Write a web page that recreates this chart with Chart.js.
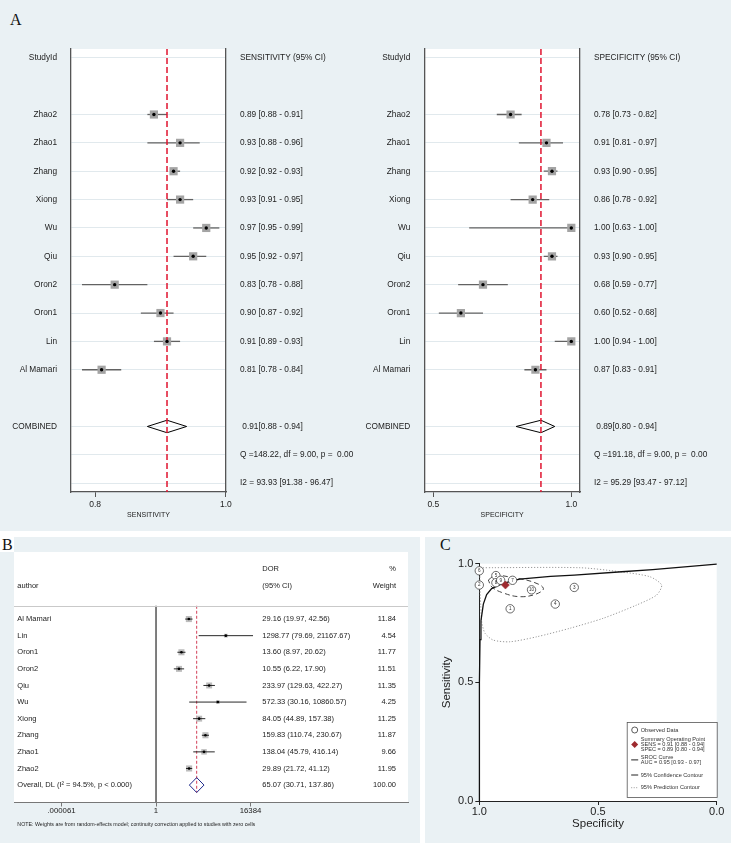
<!DOCTYPE html>
<html>
<head>
<meta charset="utf-8">
<script src="https://cdn.jsdelivr.net/npm/chart.js@4.4.1/dist/chart.umd.min.js"></script>
<style>
  html, body { margin: 0; padding: 0; background: #fff; }
  body { width: 731px; height: 843px; position: relative; overflow: hidden; }
  .panel { position: absolute; background: #eaf1f4; }
  canvas { position: absolute; }
  .lab { position: absolute; font-family: "Liberation Serif", "Times New Roman", serif; font-size: 16px; line-height: 1; color: #111; }
</style>
</head>
<body>
<div class="panel" style="left:0;top:0;width:731px;height:531px"></div>
<div class="panel" style="left:0;top:537px;width:420px;height:306px"></div>
<div class="panel" style="left:425px;top:537px;width:306px;height:306px"></div>
<div class="lab" style="left:10px;top:12px">A</div>
<div class="lab" style="left:0;top:537px;width:12px;height:15px;background:#fff;padding-left:2px">B</div>
<div class="lab" style="left:440px;top:537px">C</div>
<canvas id="sens" width="365" height="500" style="left:0;top:30px"></canvas>
<canvas id="spec" width="366" height="500" style="left:365px;top:30px"></canvas>
<canvas id="dor" width="420" height="306" style="left:0;top:537px"></canvas>
<canvas id="sroc" width="306" height="306" style="left:425px;top:537px"></canvas>
<script>
// studies, same order as panel B (panel A lists them reversed)
var studies = ['Al Mamari', 'Lin', 'Oron1', 'Oron2', 'Qiu', 'Wu', 'Xiong', 'Zhang', 'Zhao1', 'Zhao2'];

var sens   = [0.81, 0.91, 0.90, 0.83, 0.95, 0.97, 0.93, 0.92, 0.93, 0.89];
var sensLo = [0.78, 0.89, 0.87, 0.78, 0.92, 0.95, 0.91, 0.92, 0.88, 0.88];
var sensHi = [0.84, 0.93, 0.92, 0.88, 0.97, 0.99, 0.95, 0.93, 0.96, 0.91];
var sensPooled = [0.91, 0.88, 0.94];
var sensQ  = [148.22, 9.00, 0.00];
var sensI2 = [93.93, 91.38, 96.47];

var spec   = [0.87, 1.00, 0.60, 0.68, 0.93, 1.00, 0.86, 0.93, 0.91, 0.78];
var specLo = [0.83, 0.94, 0.52, 0.59, 0.90, 0.63, 0.78, 0.90, 0.81, 0.73];
var specHi = [0.91, 1.00, 0.68, 0.77, 0.95, 1.00, 0.92, 0.95, 0.97, 0.82];
var specPooled = [0.89, 0.80, 0.94];
var specQ  = [191.18, 9.00, 0.00];
var specI2 = [95.29, 93.47, 97.12];

var dor    = [29.16, 1298.77, 13.60, 10.55, 233.97, 572.33, 84.05, 159.83, 138.04, 29.89];
var dorLo  = [19.97, 79.69, 8.97, 6.22, 129.63, 30.16, 44.89, 110.74, 45.79, 21.72];
var dorHi  = [42.56, 21167.67, 20.62, 17.90, 422.27, 10860.57, 157.38, 230.67, 416.14, 41.12];
var weight = [11.84, 4.54, 11.77, 11.51, 11.35, 4.25, 11.25, 11.87, 9.66, 11.95];
var dorPooled = [65.07, 30.71, 137.86];
var dorI2 = 94.5;
var dorWeightTotal = 100;
var dorTicks = [Math.pow(2, -14), 1, 16384];

var auc = [0.95, 0.93, 0.97];
// SROC curve and contours (specificity, sensitivity)
var srocSpec = [1.000, 1.000, 0.999, 0.997, 0.993, 0.983, 0.969, 0.948, 0.910, 0.870, 0.830, 0.700, 0.600, 0.400, 0.270, 0.000];
var srocSens = [0.000, 0.300, 0.500, 0.680, 0.760, 0.830, 0.870, 0.895, 0.913, 0.925, 0.935, 0.947, 0.952, 0.966, 0.975, 0.998];
var confSpec = [0.962, 0.934, 0.857, 0.774, 0.730, 0.761, 0.829, 0.900, 0.947, 0.962];
var confSens = [0.931, 0.950, 0.941, 0.923, 0.896, 0.872, 0.861, 0.877, 0.902, 0.931];
var predSpec = [0.997, 0.576, 0.407, 0.281, 0.232, 0.253, 0.337, 0.478, 0.618, 0.758, 0.871, 0.941, 0.976, 0.990, 0.994, 0.997, 0.997];
var predSens = [0.983, 0.983, 0.966, 0.945, 0.910, 0.868, 0.826, 0.770, 0.728, 0.692, 0.671, 0.678, 0.707, 0.756, 0.826, 0.896, 0.983];

var FONT = '"Liberation Sans", Arial, Helvetica, sans-serif';
Chart.defaults.font.family = FONT;
Chart.defaults.color = '#222';
Chart.defaults.animation = false;
Chart.defaults.plugins.legend.display = false;
Chart.defaults.plugins.tooltip.enabled = false;

function f2(v) { return v.toFixed(2); }
function xy(xs, ys) { return xs.map(function(x, i) { return {x: x, y: ys[i]}; }); }

var whiteArea = {
  id: 'whiteArea',
  beforeDraw: function(c) {
    var a = c.chartArea, ctx = c.ctx;
    ctx.save();
    ctx.fillStyle = '#fff';
    ctx.fillRect(a.left, a.top, a.right - a.left, a.bottom - a.top);
    ctx.restore();
  }
};

// ---------- panel A ----------
function forestA(id, title, est, lo, hi, pooled, Q, I2, xmin, xmax, xTicks, leftW, rightW) {
  var order = studies.map(function(s, i) { return i; }).reverse();
  var row0 = 2, poolRow = 13, ymin = -0.31, ymax = 15.31;
  var leftLab = {0: 'StudyId', 13: 'COMBINED'};
  var rightLab = {
    0: title + ' (95% CI)',
    13: ' ' + f2(pooled[0]) + '[' + f2(pooled[1]) + ' - ' + f2(pooled[2]) + ']',
    14: 'Q =' + f2(Q[0]) + ', df = ' + f2(Q[1]) + ', p =  ' + f2(Q[2]),
    15: 'I2 = ' + f2(I2[0]) + ' [' + f2(I2[1]) + ' - ' + f2(I2[2]) + ']'
  };
  order.forEach(function(i, k) {
    leftLab[row0 + k] = studies[i];
    rightLab[row0 + k] = f2(est[i]) + ' [' + f2(lo[i]) + ' - ' + f2(hi[i]) + ']';
  });
  var rows = Object.keys(rightLab).map(Number);
  var pts = order.map(function(i, k) { return {x: est[i], y: row0 + k}; });
  var h = 0.22;
  var diamond = [
    {x: pooled[1], y: poolRow}, {x: pooled[0], y: poolRow - h},
    {x: pooled[2], y: poolRow}, {x: pooled[0], y: poolRow + h}, {x: pooled[1], y: poolRow}
  ];

  var datasets = [
    {data: pts, pointStyle: 'circle', pointRadius: 1.7, backgroundColor: '#000', borderWidth: 0},
    {data: [{x: pooled[0], y: ymin}, {x: pooled[0], y: ymax}], showLine: true, borderColor: '#e0142f',
     borderWidth: 1.5, borderDash: [6, 3], pointRadius: 0},
    {data: pts, pointStyle: 'rect', pointRadius: 5.8, backgroundColor: '#a4a4a4', borderWidth: 0}
  ];
  order.forEach(function(i, k) {
    datasets.push({data: [{x: lo[i], y: row0 + k}, {x: hi[i], y: row0 + k}], showLine: true,
      borderColor: '#626262', borderWidth: 1.3, pointRadius: 0});
  });
  datasets.push({data: diamond, showLine: true, borderColor: '#000', borderWidth: 1, pointRadius: 0});

  var yCommon = {
    type: 'linear', reverse: true, min: ymin, max: ymax,
    afterBuildTicks: function(s) { s.ticks = rows.map(function(v) { return {value: v}; }); }
  };
  new Chart(document.getElementById(id), {
    type: 'scatter',
    data: {datasets: datasets},
    options: {
      responsive: false,
      layout: {padding: {top: 8, left: 0, right: 0, bottom: 0}},
      scales: {
        x: {
          type: 'linear', min: xmin, max: xmax,
          afterBuildTicks: function(s) { s.ticks = xTicks.map(function(v) { return {value: v}; }); },
          ticks: {callback: function(v) { return v.toFixed(1); }, font: {size: 8.5}, color: '#222',
                  padding: 3, maxRotation: 0, autoSkip: false},
          grid: {drawOnChartArea: false, drawTicks: true, tickLength: 5, color: '#555'},
          border: {color: '#555', width: 1.3},
          title: {display: true, text: title, font: {size: 7}, color: '#222', padding: {top: 0, bottom: 10.8}},
          afterFit: function(s) { s.height = 38; }
        },
        y: Object.assign({}, yCommon, {
          position: 'left',
          ticks: {callback: function(v) { return leftLab[v] || ''; }, font: {size: 8.3}, color: '#222',
                  padding: 14, autoSkip: false},
          grid: {color: '#e1e9ed', lineWidth: 1, drawTicks: false},
          border: {color: '#555', width: 1.3},
          afterFit: function(s) { s.width = leftW; }
        }),
        y2: Object.assign({}, yCommon, {
          position: 'right',
          ticks: {callback: function(v) { return rightLab[v] || ''; }, font: {size: 8.3}, color: '#222',
                  padding: 14, autoSkip: false},
          grid: {display: false, drawTicks: false},
          border: {color: '#555', width: 1.3},
          afterFit: function(s) { s.width = rightW; }
        })
      }
    },
    plugins: [whiteArea]
  });
}

forestA('sens', 'SENSITIVITY', sens, sensLo, sensHi, sensPooled, sensQ, sensI2, 0.7632, 1.0002, [0.8, 1.0], 71, 139);
forestA('spec', 'SPECIFICITY', spec, specLo, specHi, specPooled, specQ, specI2, 0.4674, 1.0315, [0.5, 1.0], 59.3, 151);

// ---------- panel B ----------
var sepRow = -0.8;
var dorText = {
  id: 'dorText',
  afterDraw: function(c) {
    var ctx = c.ctx, a = c.chartArea, y = c.scales.y;
    var colName = a.left + 3.3, colDor = 262.3, colW = 396;
    ctx.save();
    ctx.strokeStyle = '#c9c9c9';
    ctx.lineWidth = 1;
    var ys = Math.round(y.getPixelForValue(sepRow)) + 0.5;
    ctx.beginPath(); ctx.moveTo(a.left, ys); ctx.lineTo(a.right, ys); ctx.stroke();

    ctx.font = '7.5px ' + FONT;
    ctx.fillStyle = '#222';
    ctx.textBaseline = 'middle';
    function put(t, x, row, al) { ctx.textAlign = al; ctx.fillText(t, x, y.getPixelForValue(row)); }
    put('DOR', colDor, -3, 'left');
    put('(95% CI)', colDor, -2, 'left');
    put('%', colW, -3, 'right');
    put('Weight', colW, -2, 'right');
    put('author', colName, -2, 'left');
    studies.forEach(function(s, i) {
      put(s, colName, i, 'left');
      put(f2(dor[i]) + ' (' + f2(dorLo[i]) + ', ' + f2(dorHi[i]) + ')', colDor, i, 'left');
      put(f2(weight[i]), colW, i, 'right');
    });
    var n = studies.length;
    put('Overall, DL (I\u00b2 = ' + dorI2.toFixed(1) + '%, p < 0.000)', colName, n, 'left');
    put(f2(dorPooled[0]) + ' (' + f2(dorPooled[1]) + ', ' + f2(dorPooled[2]) + ')', colDor, n, 'left');
    put(f2(dorWeightTotal), colW, n, 'right');

    ctx.font = '5.3px ' + FONT;
    ctx.textAlign = 'left';
    ctx.fillText('NOTE: Weights are from random-effects model; continuity correction applied to studies with zero cells',
      colName, 288);
    ctx.restore();
  }
};

(function() {
  var ymin = -4.04, ymax = 11.02, n = studies.length, h = 0.45;
  var pts = dor.map(function(v, i) { return {x: v, y: i}; });
  var datasets = [
    {data: pts, pointStyle: 'circle', pointRadius: 1.3, backgroundColor: '#000', borderWidth: 0},
  ];
  dor.forEach(function(v, i) {
    datasets.push({data: [{x: dorLo[i], y: i}, {x: dorHi[i], y: i}], showLine: true,
      borderColor: '#111', borderWidth: 0.9, pointRadius: 0});
  });
  datasets.push(
    {data: pts, pointStyle: 'rect', pointRadius: weight.map(function(w) { return 1.25 * Math.sqrt(w); }),
     backgroundColor: '#bdbdbd', borderWidth: 0},
    {data: [{x: dorPooled[1], y: n}, {x: dorPooled[0], y: n - h}, {x: dorPooled[2], y: n},
            {x: dorPooled[0], y: n + h}, {x: dorPooled[1], y: n}],
     showLine: true, borderColor: '#1f2a8c', borderWidth: 1, pointRadius: 0},
    {data: [{x: dorPooled[0], y: sepRow}, {x: dorPooled[0], y: n + h}], showLine: true,
     borderColor: '#c8102e', borderWidth: 0.8, borderDash: [3, 2], pointRadius: 0},
    {data: [{x: 1, y: sepRow}, {x: 1, y: ymax}], showLine: true, borderColor: '#555', borderWidth: 1.5, pointRadius: 0}
  );

  new Chart(document.getElementById('dor'), {
    type: 'scatter',
    data: {datasets: datasets},
    options: {
      responsive: false,
      layout: {padding: {top: 15, left: 14, right: 12, bottom: 0}},
      scales: {
        x: {
          type: 'logarithmic', min: Math.pow(2, -21.04), max: Math.pow(2, 37.33),
          afterBuildTicks: function(s) { s.ticks = dorTicks.map(function(v) { return {value: v}; }); },
          ticks: {
            callback: function(v) { return v < 1 ? v.toFixed(6).replace(/^0/, '') : String(v); },
            font: {size: 7.8}, color: '#222', padding: 0, maxRotation: 0, autoSkip: false
          },
          grid: {drawOnChartArea: false, tickLength: 4.5, color: '#777'},
          border: {color: '#777', width: 1},
          afterFit: function(s) { s.height = 41; }
        },
        y: {type: 'linear', reverse: true, min: ymin, max: ymax, display: false}
      }
    },
    plugins: [whiteArea, dorText]
  });
})();

// ---------- panel C ----------
var srocNumbers = {
  id: 'srocNumbers',
  afterDatasetsDraw: function(c) {
    var ctx = c.ctx, x = c.scales.x, y = c.scales.y;
    ctx.save();
    ctx.font = '4.6px ' + FONT;
    ctx.fillStyle = '#333';
    ctx.textAlign = 'center';
    ctx.textBaseline = 'middle';
    spec.forEach(function(s, i) { ctx.fillText(String(i + 1), x.getPixelForValue(s), y.getPixelForValue(sens[i])); });
    ctx.restore();
  }
};

var legendItems = [
  {sym: 'circle', y: 8, lines: ['Observed Data']},
  {sym: 'diamond', y: 17.3, lines: ['Summary Operating Point',
    'SENS = ' + f2(sensPooled[0]) + ' [' + f2(sensPooled[1]) + ' - ' + f2(sensPooled[2]) + ']',
    'SPEC = ' + f2(specPooled[0]) + ' [' + f2(specPooled[1]) + ' - ' + f2(specPooled[2]) + ']']},
  {sym: 'solid', y: 35.3, lines: ['SROC Curve',
    'AUC = ' + f2(auc[0]) + ' [' + f2(auc[1]) + ' - ' + f2(auc[2]) + ']']},
  {sym: 'dash', y: 53, lines: ['95% Confidence Contour']},
  {sym: 'dot', y: 65.7, lines: ['95% Prediction Contour']}
];

var srocLegend = {
  id: 'srocLegend',
  afterDraw: function(c) {
    var ctx = c.ctx, a = c.chartArea;
    var w = 90, h = 75, bx = a.right - w, by = a.bottom - h - 4;
    ctx.save();
    ctx.fillStyle = '#fff';
    ctx.fillRect(bx, by, w, h);
    ctx.strokeStyle = '#555';
    ctx.lineWidth = 0.8;
    ctx.strokeRect(bx + 0.5, by + 0.5, w, h);
    ctx.font = '5.6px ' + FONT;
    ctx.fillStyle = '#333';
    ctx.textAlign = 'left';
    ctx.textBaseline = 'middle';
    legendItems.forEach(function(it) {
      it.lines.forEach(function(t, j) { ctx.fillText(t, bx + 14, by + it.y + j * 5.2); });
      var sx = bx + 8, sy = by + it.y + (it.lines.length - 1) * 2.6;
      ctx.save();
      if (it.sym === 'circle') {
        ctx.strokeStyle = '#333'; ctx.lineWidth = 0.8;
        ctx.beginPath(); ctx.arc(sx, sy, 3, 0, Math.PI * 2); ctx.stroke();
      } else if (it.sym === 'diamond') {
        ctx.fillStyle = '#9e2a2f';
        ctx.beginPath(); ctx.moveTo(sx, sy - 3.5); ctx.lineTo(sx + 3.5, sy); ctx.lineTo(sx, sy + 3.5);
        ctx.lineTo(sx - 3.5, sy); ctx.closePath(); ctx.fill();
      } else {
        ctx.strokeStyle = it.sym === 'dot' ? '#999' : '#222';
        ctx.lineWidth = 1;
        if (it.sym === 'dot') ctx.setLineDash([1, 1.5]);
        ctx.beginPath(); ctx.moveTo(sx - 3.5, sy); ctx.lineTo(sx + 3.5, sy); ctx.stroke();
      }
      ctx.restore();
    });
    ctx.restore();
  }
};

new Chart(document.getElementById('sroc'), {
  type: 'scatter',
  data: {
    datasets: [
      {data: [{x: specPooled[0], y: sensPooled[0]}], pointStyle: 'rectRot', pointRadius: 4,
       backgroundColor: '#9e2a2f', borderColor: '#9e2a2f', borderWidth: 0.5, clip: false},
      {data: xy(spec, sens), pointStyle: 'circle', pointRadius: 4.2, backgroundColor: '#fff',
       borderColor: '#444', borderWidth: 0.8, clip: false},
      {data: xy(srocSpec, srocSens), showLine: true, pointRadius: 0, borderColor: '#111', borderWidth: 1.3, clip: false},
      {data: xy(confSpec, confSens), showLine: true, pointRadius: 0, borderColor: '#444', borderWidth: 1,
       borderDash: [5, 3], tension: 0.4},
      {data: xy(predSpec, predSens), showLine: true, pointRadius: 0, borderColor: '#9a9a9a', borderWidth: 1,
       borderDash: [1.2, 1.8], tension: 0.25, clip: false}
    ]
  },
  options: {
    responsive: false,
    layout: {padding: {top: 26.7, left: 0, right: 14.3, bottom: 0}},
    scales: {
      x: {
        type: 'linear', reverse: true, min: 0, max: 1,
        ticks: {stepSize: 0.5, callback: function(v) { return v.toFixed(1); }, font: {size: 11},
                color: '#222', padding: 0, maxRotation: 0},
        grid: {drawOnChartArea: false, tickLength: 4, color: '#222'},
        border: {color: '#222', width: 1},
        title: {display: true, text: 'Specificity', font: {size: 11.5}, color: '#222', padding: {top: 0, bottom: 12.1}},
        afterFit: function(s) { s.height = 42; }
      },
      y: {
        type: 'linear', min: 0, max: 1,
        ticks: {stepSize: 0.5, callback: function(v) { return v.toFixed(1); }, font: {size: 11},
                color: '#222', padding: 2},
        grid: {drawOnChartArea: false, tickLength: 4, color: '#222'},
        border: {color: '#222', width: 1},
        title: {display: true, text: 'Sensitivity', font: {size: 11.5}, color: '#222', padding: {top: 14.8, bottom: 0}},
        afterFit: function(s) { s.width = 54.3; }
      }
    }
  },
  plugins: [whiteArea, srocNumbers, srocLegend]
});
</script>
</body>
</html>
